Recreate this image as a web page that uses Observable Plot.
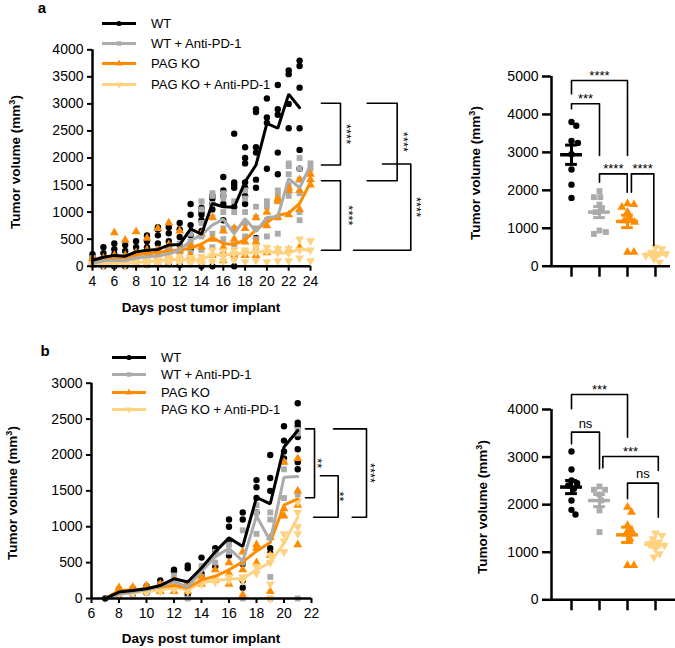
<!DOCTYPE html>
<html><head><meta charset="utf-8">
<script src="https://cdn.jsdelivr.net/npm/d3@7"></script>
<script src="https://cdn.jsdelivr.net/npm/@observablehq/plot@0.6"></script>
<style>
body{margin:0;background:#fff;font-family:"Liberation Sans",Arial,sans-serif;color:#000;}
#root{position:relative;width:675px;height:648px;overflow:hidden;background:#fff;}
.ytitle{position:absolute;font-weight:bold;font-size:13.5px;white-space:nowrap;transform:translate(-50%,-50%) rotate(-90deg);}
.xtitle{position:absolute;font-weight:bold;font-size:13.5px;white-space:nowrap;transform:translate(-50%,-50%);}
.plab{position:absolute;font-weight:bold;font-size:15px;transform:translate(-50%,-50%);}
.leg{position:absolute;font-size:13px;white-space:nowrap;display:flex;align-items:center;transform:translateY(-50%);}
.leg svg{margin-right:15px;}
</style></head><body><div id="root"></div>
<script>
// ---------- categories & styling ----------
const groups = ["WT", "WT + Anti-PD-1", "PAG KO", "PAG KO + Anti-PD-1"];
const colors = ["#000000", "#ababab", "#ff8c00", "#ffd280"];

// ---------- tick labels ----------
const xTicksA = [4, 6, 8, 10, 12, 14, 16, 18, 20, 22, 24];
const yTicksA = [0, 500, 1000, 1500, 2000, 2500, 3000, 3500, 4000];
const xTicksB = [6, 8, 10, 12, 14, 16, 18, 20, 22];
const yTicksB = [0, 500, 1000, 1500, 2000, 2500, 3000];
const yTicksA2 = [0, 1000, 2000, 3000, 4000, 5000];
const yTicksB2 = [0, 1000, 2000, 3000, 4000];
const catTicks = [1, 2, 3, 4];

// ---------- panel a: group mean curves ----------
const daysA_WT = [4,5,6,7,8,9,10,11,12,13,14,15,16,17,18,19,20,21,22,23];
const meanA_WT = [110,165,200,185,265,295,310,390,400,690,590,1160,1100,1090,1560,1870,2640,2550,3180,2930];
const daysA = [4,5,6,7,8,9,10,11,12,13,14,15,16,17,18,19,20,21,22,23,24];
const meanA_aPD1 = [50,100,110,100,150,175,190,230,300,470,580,760,870,600,880,640,900,920,1620,1450,1870];
const meanA_KO = [70,120,150,150,210,230,250,290,300,330,410,530,420,400,490,670,820,940,980,1160,1550];
const meanA_KOaPD1 = [20,40,60,50,70,80,100,120,130,110,120,220,200,230,240,260,270,250,240,320,290];

// ---------- panel a: individual mice [day, values...] ----------
const ptsA_WT = [
  [4,20,90,150,220],[5,0,70,150,240,350],[6,0,110,220,315,420],[7,0,60,170,280,390],
  [8,40,150,240,350,460],[9,20,110,240,350,460,570],[10,40,150,280,420,570,680,720],
  [11,40,170,315,460,610,720],[12,20,110,240,390,540,680,800],[13,110,315,570,760,950,1150],
  [14,0,650,850,950,1000,1080],[15,0,1050,1150,1250,1300],[16,220,850,1150,1300,1400,1650],
  [17,0,200,1100,1450,1500,1550,2450],[18,1150,1300,1450,1550,1900,2000,2200],
  [19,520,1450,1600,2100,2200,2850,2900],[20,1800,2650,2750,3100],[21,1700,2100,2800,2900,3350],
  [22,2550,3000,3550,3620],[23,1800,2150,2550,3300,3700,3800]
];
const ptsA_aPD1 = [
  [4,20,60,100,150],[5,30,80,130],[6,40,100,150],[7,40,90,150],[8,60,130,200],[9,80,160,250],
  [10,100,180,300],[11,120,230,350],[12,150,300,420],[13,250,450,600],[14,300,550,800,1050,1200],
  [15,350,600,900,1150,1300,1350],[16,500,700,1000,1250,1350],[17,150,400,700,1000,1200],
  [18,550,800,1000,1250,1400],[19,300,500,700,900,1100],[20,550,850,1100,1200],
  [21,600,900,1200,1300,1400],[22,1300,1500,1700,1850,1900],[23,850,1000,1350,1600,1800,2000],
  [24,1800,1900]
];
const ptsA_KO = [
  [4,30,80,150],[5,80,150],[6,80,200,620],[7,80,200,480],[8,20,250,640],[9,150,300,520],
  [10,150,300,700],[11,200,400,800],[12,150,300,650],[13,200,400],[14,100,350,600],
  [15,200,500,900],[16,100,350,650],[17,200,500,700],[18,200,450,700],[19,200,450,900],
  [20,250,750,1000],[21,300,900,1200,1250],[22,300,950,1400,1450],[23,350,1050,1400,1600],
  [24,1500,1600,1700]
];
const ptsA_KOaPD1 = [
  [4,0,20,40],[5,10,40,70],[6,20,60,100],[7,10,50,80],[8,20,70,110],[9,30,80,130],
  [10,30,100,150],[11,50,120,170],[12,60,130,190],[13,50,100,160],[14,50,120,180],
  [15,80,200,300],[16,100,200,280],[17,120,230,300],[18,80,250,300],[19,100,260,350],
  [20,80,270,350],[21,100,250,320],[22,100,240,320],[23,150,300,500],[24,100,300,470]
];

// ---------- panel b: group mean curves ----------
const daysB = [7,8,9,10,11,12,13,14,15,16,17,18,19,20,21];
const meanB_WT = [0,90,110,135,180,275,230,425,650,845,725,1410,1320,2110,2340];
const meanB_aPD1 = [0,60,90,120,170,240,160,380,580,700,520,1150,800,1690,1700];
const meanB_KO = [0,110,120,140,160,180,150,260,310,400,510,660,780,1300,1390];
const meanB_KOaPD1 = [0,60,80,100,120,150,120,220,250,270,280,400,500,770,1130];

// ---------- panel b: individual mice [day, values...] ----------
const ptsB_WT = [
  [7,0],[8,50,100,130],[9,60,110,140],[10,80,140,170],[11,150,200,250],[12,200,380,400],
  [13,50,200,420,460],[14,300,350,570],[15,450,650,700],[16,600,800,1000,1100],
  [17,150,250,480,1100,1200],[18,1200,1400,1550,1650],[19,630,700,1500,1680,2000],
  [20,1950,2050,2200,2400],[21,1800,1900,2080,2250,2400,2450,2720]
];
const ptsB_aPD1 = [
  [8,50,80],[9,60,100],[10,80,130],[11,120,200],[12,200,320],[13,0,150,200],[14,300,450],
  [15,500,650],[16,650,750],[17,0,500,950],[18,900,1200,1300],[19,0,300,1100,1200],
  [20,1400,1800,1900],[21,0,1450,2300,2350]
];
const ptsB_KO = [
  [8,100,150],[9,100,160],[10,120,180],[11,100,200],[12,100,250],[13,100,200],[14,200,300],
  [15,250,400],[16,200,350,500],[17,50,400,650],[18,500,700,750],[19,100,600,850],
  [20,1150,1250,1900],[21,750,1300,1500,1950]
];
const ptsB_KOaPD1 = [
  [8,50,70],[9,60,90],[10,80,120],[11,100,130],[12,120,170],[13,100,130],[14,200,240],
  [15,230,280],[16,250,300],[17,250,300],[18,350,450],[19,0,200,500,600],[20,650,800,900],
  [21,900,1000,1200,1350]
];

// ---------- end-point volumes (right panels) ----------
const finalA_WT = [3800,3700,3300,3250,2950,2550,2150,1800];
const finalA_aPD1 = [1980,1820,1820,1625,1470,1425,940,900,850];
const finalA_KO = [1650,1625,1555,1425,1275,1200,1160,370,370];
const finalA_KOaPD1 = [500,457,369,325,325,281,193,105];
const finalB_WT = [3117,2739,2508,2452,2403,2333,2088,1891,1793];
const finalB_aPD1 = [2382,2312,2312,2214,2088,1877,1422];
const finalB_KO = [1947,1842,1562,1457,1387,1282,722,722];
const finalB_KOaPD1 = [1401,1352,1282,1212,1177,1142,1072,967,897];

// ---------- significance annotations ----------
const sigA_curve = [
  {xTop:25.0, xV:26.75, xBot:25.0, yTop:3013, yBot:1870, label:"****", xText:27.25},
  {xTop:25.0, xV:26.75, xBot:25.0, yTop:1580, yBot:296, label:"****", xText:27.45},
  {xTop:29.2, xV:31.95, xBot:29.2, yTop:3013, yBot:1580, label:"****", xText:32.5},
  {xTop:30.6, xV:33.2, xBot:27.95, yTop:1889, yBot:296, label:"****", xText:33.7}
];
const sigB_curve = [
  {xTop:21.56, xV:22.22, xBot:21.56, yTop:2364, yBot:1403, label:"**", xText:22.41},
  {xTop:22.65, xV:23.94, xBot:22.15, yTop:1710, yBot:1133, label:"**", xText:24.04},
  {xTop:23.6, xV:26.0, xBot:24.96, yTop:2364, yBot:1133, label:"****", xText:26.29}
];
const sigA_final = [
  {x1:1, x2:3, y1:4543, y2:2918, top:4895, label:"****", ty:5020},
  {x1:1, x2:2, y1:4148, y2:2918, top:4280, label:"***", ty:4400},
  {x1:2, x2:2.99, y1:2215, y2:1951, top:2434, label:"****", ty:2560},
  {x1:3.14, x2:3.94, y1:1951, y2:545, top:2434, label:"****", ty:2560}
];
const sigB_final = [
  {x1:1, x2:3, y1:4014, y2:3418, top:4315, label:"***", ty:4420},
  {x1:1, x2:2, y1:3278, y2:2753, top:3524, label:"ns", ty:3699},
  {x1:2.12, x2:4.1, y1:2774, y2:2718, top:3012, label:"***", ty:3110},
  {x1:3, x2:4.1, y1:2123, y2:1737, top:2452, label:"ns", ty:2640}
];

// ---------- helpers ----------
const triangleDown = {
  draw(context, size) {
    const y = -Math.sqrt(size / (Math.sqrt(3) * 3));
    context.moveTo(0, -y * 2);
    context.lineTo(-Math.sqrt(3) * y, y);
    context.lineTo(Math.sqrt(3) * y, y);
    context.closePath();
  }
};
const symbols = ["circle", "square", "triangle", triangleDown];
const d3symbols = [d3.symbolCircle, d3.symbolSquare, d3.symbolTriangle, triangleDown];
const radii = [3.2, 3.3, 3.3, 3.3];
const FONT = "'Liberation Sans', Arial, sans-serif";
const root = document.getElementById("root");

function expand(rows, g) { return rows.flatMap(([day, ...vals]) => vals.map(v => ({day, v, g}))); }
function zipMean(days, vals, g) { return days.map((d, i) => ({day: d, v: vals[i], g})); }
function bracketPath(list) {
  return list.flatMap((b, k) => [
    {k, x: b.xTop, y: b.yTop}, {k, x: b.xV, y: b.yTop}, {k, x: b.xV, y: b.yBot}, {k, x: b.xBot, y: b.yBot}
  ]);
}
function bracketPathFinal(list) {
  return list.flatMap((b, k) => [
    {k, x: b.x1, y: b.y1}, {k, x: b.x1, y: b.top}, {k, x: b.x2, y: b.top}, {k, x: b.x2, y: b.y2}
  ]);
}
function place(el, left, top) {
  el.style.position = "absolute"; el.style.left = left + "px"; el.style.top = top + "px";
  el.style.overflow = "visible";
  root.appendChild(el);
}
function addDiv(cls, text, x, y, html) {
  const d = document.createElement("div");
  d.className = cls; d.style.left = x + "px"; d.style.top = y + "px";
  if (html) d.innerHTML = text; else d.textContent = text;
  root.appendChild(d);
  return d;
}
// deterministic beeswarm offsets in category units (points may overlap a little)
function swarm(vals, yPx, r, unitPx) {
  const placed = [];
  const order = vals.map((v, i) => ({v, i})).sort((a, b) => b.v - a.v);
  const out = new Array(vals.length).fill(0);
  for (const p of order) {
    const py = yPx(p.v);
    let off = 0;
    for (let k = 0; k < 80; k++) {
      const cand = k === 0 ? 0 : (k % 2 ? 1 : -1) * Math.ceil(k / 2) * 0.8;
      if (placed.every(q => Math.hypot(q.x - cand, q.y - py) >= 1.85 * r)) { off = cand; break; }
    }
    placed.push({x: off, y: py});
    out[p.i] = off / unitPx;
  }
  return out;
}

function curvePanel(cfg) {
  const marks = [];
  cfg.pts.forEach((rows, g) => {
    marks.push(Plot.dot(expand(rows, g), {x: "day", y: "v", fill: colors[g], stroke: "none", symbol: symbols[g], r: radii[g]}));
  });
  for (let g = 3; g >= 0; g--) {
    marks.push(Plot.line(zipMean(cfg.days[g], cfg.means[g], g), {x: "day", y: "v", stroke: colors[g], strokeWidth: 3, strokeLinejoin: "miter"}));
  }
  marks.push(
    Plot.ruleX([cfg.xDomain[0]], {y1: 0, y2: cfg.yDomain[1], strokeWidth: 2.5}),
    Plot.ruleY([0], {x1: cfg.xDomain[0], x2: cfg.xDomain[1], strokeWidth: 2.5}),
    Plot.axisY({ticks: cfg.yTicks, tickSize: 5, tickPadding: 4, strokeWidth: 2, fontSize: 14, label: null, tickFormat: d => String(d)}),
    Plot.axisX({ticks: cfg.xTicks, tickSize: 5, tickPadding: 5, strokeWidth: 2, fontSize: 14, label: null, tickFormat: d => String(d)}),
    Plot.line(bracketPath(cfg.sig), {x: "x", y: "y", z: "k", stroke: "black", strokeWidth: 1.6}),
    Plot.text(cfg.sig, {x: "xText", y: d => (d.yTop + d.yBot) / 2, text: "label", rotate: 90, fontSize: 13, fill: "black", fillOpacity: 0.99})
  );
  return Plot.plot({
    width: cfg.width, height: cfg.height,
    marginLeft: cfg.m[0], marginRight: cfg.m[1], marginTop: cfg.m[2], marginBottom: cfg.m[3],
    x: {domain: cfg.xDomain}, y: {domain: cfg.yDomain},
    style: {fontFamily: FONT, fontSize: "14px", background: "transparent", overflow: "visible", color: "black"},
    marks
  });
}

function finalPanel(cfg) {
  const h = cfg.height, m = cfg.m;
  const yPx = d3.scaleLinear(cfg.yDomain, [h - m[3], m[2]]);
  const unitPx = (cfg.width - m[0] - m[1]) / (cfg.xDomain[1] - cfg.xDomain[0]);
  const pts = [], stats = [];
  cfg.finals.forEach((vals, g) => {
    const offs = swarm(vals, yPx, radii[g], unitPx);
    vals.forEach((v, i) => pts.push({x: g + 1 + offs[i], v, g}));
    const mean = d3.mean(vals), sem = d3.deviation(vals) / Math.sqrt(vals.length);
    stats.push({x: g + 1, mean, lo: mean - sem, hi: mean + sem, g});
  });
  const marks = [];
  for (let g = 0; g < 4; g++) {
    marks.push(Plot.dot(pts.filter(d => d.g === g), {x: "x", y: "v", fill: colors[g], stroke: "none", symbol: symbols[g], r: radii[g]}));
  }
  marks.push(
    Plot.ruleX(stats, {x: "x", y1: "lo", y2: "hi", stroke: d => colors[d.g], strokeWidth: 3}),
    Plot.ruleY(stats, {y: "mean", x1: d => d.x - 0.39, x2: d => d.x + 0.39, stroke: d => colors[d.g], strokeWidth: 3.5}),
    Plot.ruleY(stats, {y: "lo", x1: d => d.x - 0.21, x2: d => d.x + 0.21, stroke: d => colors[d.g], strokeWidth: 3}),
    Plot.ruleY(stats, {y: "hi", x1: d => d.x - 0.21, x2: d => d.x + 0.21, stroke: d => colors[d.g], strokeWidth: 3}),
    Plot.ruleX([cfg.xDomain[0]], {y1: 0, y2: cfg.yDomain[1], strokeWidth: 2.5}),
    Plot.ruleY([0], {x1: cfg.xDomain[0], x2: cfg.xDomain[1], strokeWidth: 2.5}),
    Plot.axisY({ticks: cfg.yTicks, tickSize: 9, tickPadding: 4, strokeWidth: 2.5, fontSize: 14, label: null, tickFormat: d => String(d)}),
    Plot.axisX({ticks: catTicks, tickSize: 11, strokeWidth: 2.5, label: null, tickFormat: () => ""}),
    Plot.line(bracketPathFinal(cfg.sig), {x: "x", y: "y", z: "k", stroke: "black", strokeWidth: 1.6}),
    Plot.text(cfg.sig, {x: d => (d.x1 + d.x2) / 2, y: "ty", text: "label", fontSize: 13, fill: "black"})
  );
  return Plot.plot({
    width: cfg.width, height: h,
    marginLeft: m[0], marginRight: m[1], marginTop: m[2], marginBottom: m[3],
    x: {type: "linear", domain: cfg.xDomain}, y: {domain: cfg.yDomain},
    style: {fontFamily: FONT, fontSize: "14px", background: "transparent", overflow: "visible", color: "black"},
    marks
  });
}

// ---------- build panels ----------
place(curvePanel({
  width: 440, height: 300, m: [92, 130, 49.3, 34.3],
  xDomain: [4, 24], yDomain: [0, 4000], xTicks: xTicksA, yTicks: yTicksA,
  pts: [ptsA_WT, ptsA_aPD1, ptsA_KO, ptsA_KOaPD1],
  days: [daysA_WT, daysA, daysA, daysA],
  means: [meanA_WT, meanA_aPD1, meanA_KO, meanA_KOaPD1],
  sig: sigA_curve
}), 0, 0);

place(curvePanel({
  width: 440, height: 300, m: [91, 129, 52.7, 32],
  xDomain: [6, 22], yDomain: [0, 3000], xTicks: xTicksB, yTicks: yTicksB,
  pts: [ptsB_WT, ptsB_aPD1, ptsB_KO, ptsB_KOaPD1],
  days: [daysB, daysB, daysB, daysB],
  means: [meanB_WT, meanB_aPD1, meanB_KO, meanB_KOaPD1],
  sig: sigB_curve
}), 0, 330);

place(finalPanel({
  width: 235, height: 300, m: [111, 5, 76, 34.3],
  xDomain: [0.2857, 4.536], yDomain: [0, 5000], yTicks: yTicksA2,
  finals: [finalA_WT, finalA_aPD1, finalA_KO, finalA_KOaPD1],
  sig: sigA_final
}), 440, 0);

place(finalPanel({
  width: 235, height: 300, m: [111, 0, 79, 30.7],
  xDomain: [0.2857, 4.714], yDomain: [0, 4000], yTicks: yTicksB2,
  finals: [finalB_WT, finalB_aPD1, finalB_KO, finalB_KOaPD1],
  sig: sigB_final
}), 440, 330);

// ---------- titles & labels ----------
addDiv("plab", "a", 42, 7);
addDiv("plab", "b", 45, 350);
addDiv("ytitle", "Tumor volume (mm<sup style='font-size:9px'>3</sup>)", 15, 162, true);
addDiv("ytitle", "Tumor volume (mm<sup style='font-size:9px'>3</sup>)", 12, 493, true);
addDiv("ytitle", "Tumor volume (mm<sup style='font-size:9px'>3</sup>)", 475, 173, true);
addDiv("ytitle", "Tumor volume (mm<sup style='font-size:9px'>3</sup>)", 482, 507, true);
addDiv("xtitle", "Days post tumor implant", 201, 307);
addDiv("xtitle", "Days post tumor implant", 201, 638);

// ---------- legends ----------
function legend(x, ys) {
  groups.forEach((name, g) => {
    const d = document.createElement("div");
    d.className = "leg"; d.style.left = x + "px"; d.style.top = ys[g] + "px";
    const sym = d3.symbol(d3symbols[g], Math.PI * 2.6 * 2.6)();
    d.innerHTML = `<svg width="34" height="12" viewBox="0 0 34 12"><line x1="0" y1="6" x2="34" y2="6" stroke="${colors[g]}" stroke-width="3"/><path d="${sym}" transform="translate(17,6)" fill="${colors[g]}"/></svg><span>${name}</span>`;
    root.appendChild(d);
  });
}
legend(102, [23, 43, 63, 84]);
legend(112, [357, 374, 392, 409]);
</script></body></html>
